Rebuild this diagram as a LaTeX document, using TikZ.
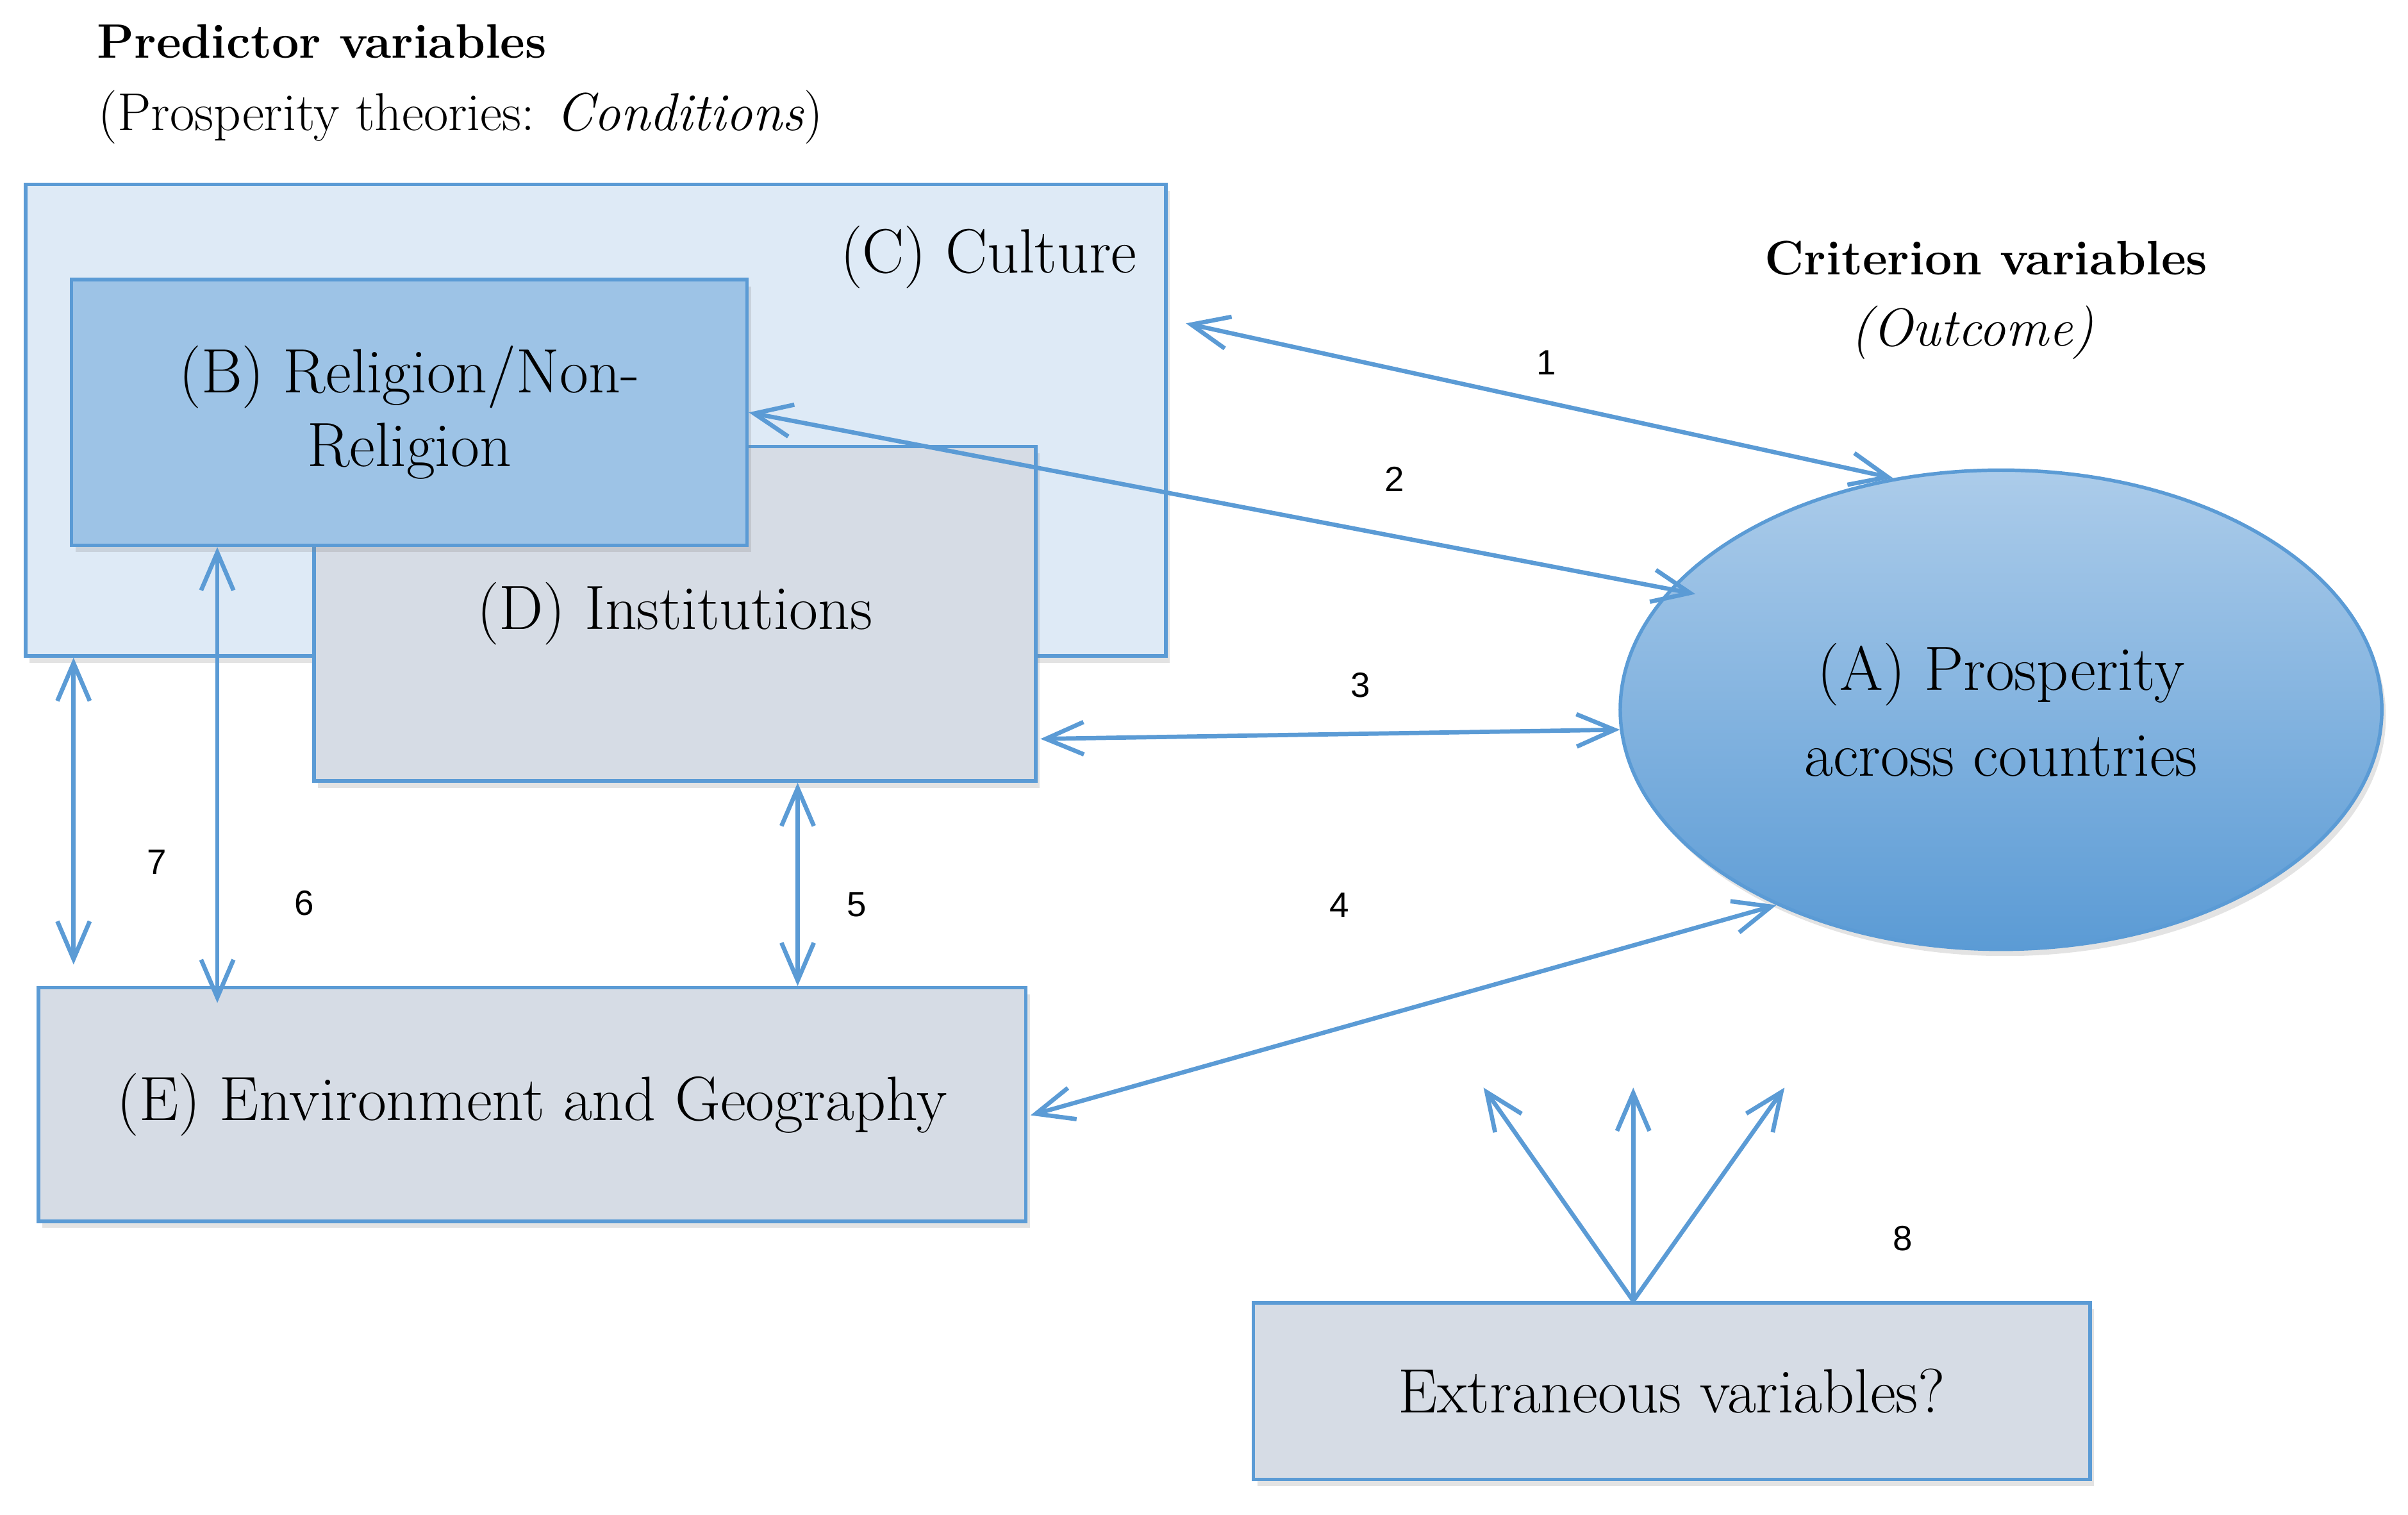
\documentclass[tikz,border=0pt]{standalone}
\usepackage{fontspec}
\newfontfamily\numfont{Liberation Sans}
\usepackage{tikz}
\usetikzlibrary{positioning,calc,shapes.geometric,arrows.meta,shadows}
\definecolor{linkblue}{RGB}{91,155,213}
\definecolor{culturebg}{RGB}{222,234,246}
\definecolor{religionbg}{RGB}{157,195,230}
\definecolor{greybg}{RGB}{214,220,229}
\definecolor{ovaltop}{RGB}{172,204,234}

\begin{document}
\begin{tikzpicture}[x=0.02cm, y=-0.02cm,
    factor/.style={rectangle, draw=linkblue, line width=1.3pt, inner sep=0pt, align=center, font=\fontsize{23.2}{27.2}\selectfont, drop shadow={opacity=0.22, shadow xshift=1.5pt, shadow yshift=-2.5pt}},
    outcome/.style={ellipse, draw=linkblue, line width=1.3pt, inner sep=0pt, top color=ovaltop, bottom color=linkblue, align=center, font=\fontsize{23.2}{31.8}\selectfont, drop shadow={opacity=0.22, shadow xshift=1.5pt, shadow yshift=-2.5pt}},
    link/.style={draw=linkblue, line width=1.6pt, arrows={Straight Barb[length=14pt,width=12pt]-Straight Barb[length=14pt,width=12pt]}},
    oneway/.style={draw=linkblue, line width=1.6pt, arrows={-Straight Barb[length=14pt,width=12pt]}},
    num/.style={font=\numfont\fontsize{13}{15}\selectfont},
    heading/.style={anchor=base west, font=\fontsize{17.9}{21}\selectfont\bfseries},
    subhead/.style={anchor=base west, font=\fontsize{19.8}{23}\selectfont}]
    \useasboundingbox (0,0) rectangle (1568,986);

    \node[heading] (predhd) at (57,37.6) {Predictor variables};
    \node[subhead] (predsub) at (58,85) {(Prosperity theories: \textit{Conditions})};
    \node[heading] (crithd) at (1143,179) {Criterion variables};
    \node[subhead] (critsub) at (1199,225) {\textit{(Outcome)}};

    \node[factor, fill=culturebg, minimum width=14.85cm, minimum height=6.14cm] (culture) at (387.9,273.5) {};
    \node[anchor=base west, font=\fontsize{23.2}{27}\selectfont] (culturelbl) at (541,177.5) {(C) Culture};
    \node[factor, fill=greybg, minimum width=9.4cm, minimum height=4.356cm] (inst) at (439.4,399.5) {(D) Institutions};
    \node[factor, fill=religionbg, minimum width=8.8cm, minimum height=3.46cm] (relig) at (266.5,268.5) {(B) Religion/Non-\\Religion};
    \node[factor, fill=greybg, minimum width=12.86cm, minimum height=3.04cm] (env) at (346.5,719) {(E) Environment and Geography};
    \node[factor, fill=greybg, minimum width=10.9cm, minimum height=2.3cm] (extra) at (1088.5,905.5) {Extraneous variables?};
    \node[outcome, minimum width=9.92cm, minimum height=6.24cm] (prosp) at (1303,462) {(A) Prosperity\\across countries};

    \draw[link] ($(culture.east)+(12,-63)$) -- (prosp.115);
    \draw[link, shorten >=-0.34cm] (relig.east) -- (prosp.160);
    \draw[link] ($(inst.east)+(2,81.5)$) -- (prosp.183);
    \draw[link] ($(env.east)+(2,7)$) -- (prosp.221);

    \coordinate (up5) at ($(inst.south)+(80,0)$);
    \draw[link] (up5) -- (up5 |- env.north);
    \coordinate (up6) at ($(relig.south)+(-125,0)$);
    \draw[link] (up6) -- ($(up6 |- env.north)+(0,11)$);
    \coordinate (up7) at ($(culture.south)+(-340,0)$);
    \draw[link] (up7) -- ($(up7 |- env.north)+(0,-14)$);

    \coordinate (root8) at ($(extra.north)+(-25,0)$);
    \coordinate (tipleft) at (966,708);
    \coordinate (tipmid) at (root8 |- tipleft);
    \coordinate (tipright) at (1162,708);
    \foreach \tip in {tipleft,tipmid,tipright}
        \draw[oneway] (root8) -- (\tip);

    \node[num] (n1) at (1007,236) {1};
    \node[num] (n2) at (908,312) {2};
    \node[num] (n3) at (886,446) {3};
    \node[num] (n4) at (872,589) {4};
    \node[num] (n5) at (558,589) {5};
    \node[num] (n6) at (198,588) {6};
    \node[num] (n7) at (102,561) {7};
    \node[num] (n8) at (1239,806) {8};
\end{tikzpicture}
\end{document}
